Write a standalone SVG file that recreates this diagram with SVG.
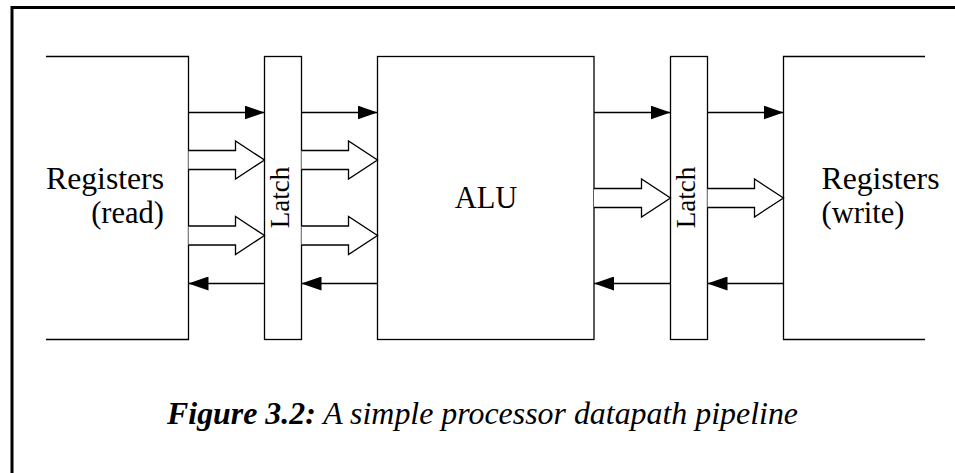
<svg xmlns="http://www.w3.org/2000/svg" width="955" height="473" viewBox="0 0 955 473">
<style>
.box{fill:#fff;stroke:#000;stroke-width:1.3}
.edge{fill:none;stroke:#000;stroke-width:1.3}
.wire{fill:none;stroke:#000;stroke-width:1.3}
.bus{fill:#fff;stroke:#000;stroke-width:1.3;stroke-linejoin:miter}
.lbl{font-family:"Liberation Serif","Times New Roman",serif;font-size:30.5px;fill:#000}
.latch{font-family:"Liberation Serif","Times New Roman",serif;font-size:27px;fill:#000}
.cap{font-family:"Liberation Serif","Times New Roman",serif;font-size:32px;font-style:italic;fill:#000}
</style>
<defs>
<marker id="ah" viewBox="0 0 20 14" refX="20" refY="7" markerWidth="20" markerHeight="14" markerUnits="userSpaceOnUse" orient="auto">
<path d="M0,0 L20,7 L0,14 Z" fill="#000"/>
</marker>
</defs>
<rect width="955" height="473" fill="#fff"/>
<g id="frame">
<path d="M11,7.5 H955" stroke="#000" stroke-width="3" fill="none"/>
<path d="M12,6 V473" stroke="#000" stroke-width="3" fill="none"/>
</g>
<g id="regs-read">
<path class="edge" d="M46,56.5 H188.5 V339.5 H46"/>
<text class="lbl" x="46" y="189" textLength="118" lengthAdjust="spacingAndGlyphs">Registers</text>
<text class="lbl" x="164" y="223" text-anchor="end">(read)</text>
</g>
<g id="latch1">
<rect class="box" x="264.5" y="56.5" width="37" height="283"/>
<text class="latch" transform="translate(288.5,197.5) rotate(-90)" text-anchor="middle">Latch</text>
</g>
<g id="alu">
<rect class="box" x="377.5" y="56.5" width="216.5" height="283"/>
<text class="lbl" x="486" y="208" text-anchor="middle">ALU</text>
</g>
<g id="latch2">
<rect class="box" x="670.5" y="56.5" width="37" height="283"/>
<text class="latch" transform="translate(694.5,197.5) rotate(-90)" text-anchor="middle">Latch</text>
</g>
<g id="regs-write">
<path class="edge" d="M925,56.5 H783.5 V339.5 H925"/>
<text class="lbl" x="821.5" y="189" textLength="118" lengthAdjust="spacingAndGlyphs">Registers</text>
<text class="lbl" x="821.5" y="223">(write)</text>
</g>
<g id="connectors">
<path class="wire" d="M188.5,112.5 H264.5" marker-end="url(#ah)"/>
<path class="wire" d="M301.5,112.5 H377.5" marker-end="url(#ah)"/>
<path class="wire" d="M594,112.5 H670.5" marker-end="url(#ah)"/>
<path class="wire" d="M707.5,112.5 H783.5" marker-end="url(#ah)"/>
<path class="wire" d="M264.5,283.5 H188.5" marker-end="url(#ah)"/>
<path class="wire" d="M377.5,283.5 H301.5" marker-end="url(#ah)"/>
<path class="wire" d="M670.5,283.5 H594" marker-end="url(#ah)"/>
<path class="wire" d="M783.5,283.5 H707.5" marker-end="url(#ah)"/>
<path class="bus" d="M188.5,150.5 H235.5 V141 L264.5,160 L235.5,179 V169.5 H188.5"/>
<path class="bus" d="M301.5,150.5 H348.5 V141 L377.5,160 L348.5,179 V169.5 H301.5"/>
<path class="bus" d="M188.5,226 H235.5 V216.5 L264.5,235.5 L235.5,254.5 V245 H188.5"/>
<path class="bus" d="M301.5,226 H348.5 V216.5 L377.5,235.5 L348.5,254.5 V245 H301.5"/>
<path class="bus" d="M594,188.5 H641.5 V179 L670.5,198 L641.5,217 V207.5 H594"/>
<path class="bus" d="M707.5,188.5 H754.5 V179 L783.5,198 L754.5,217 V207.5 H707.5"/>
</g>
<g id="caption">
<text class="cap" x="167" y="424" textLength="631" lengthAdjust="spacingAndGlyphs"><tspan font-weight="bold">Figure 3.2:</tspan> A simple processor datapath pipeline</text>
</g>
</svg>
